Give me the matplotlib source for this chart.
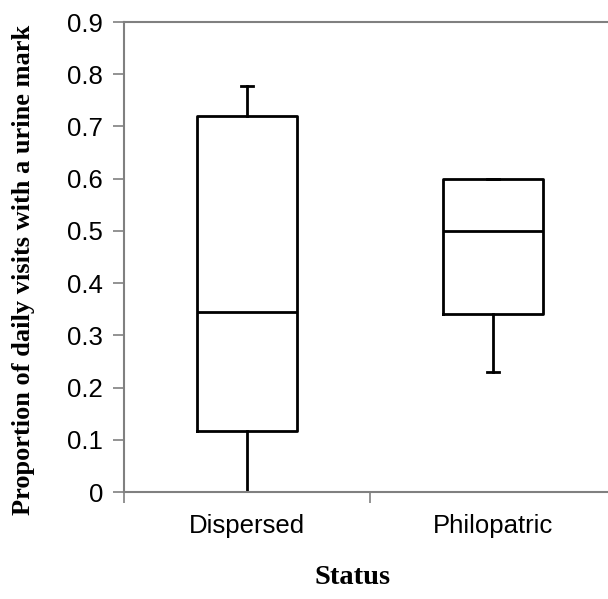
import matplotlib
matplotlib.use("Agg")
import matplotlib.pyplot as plt

categories = ["Dispersed", "Philopatric"]
whisker_low = [0.0, 0.23]
q1 = [0.117, 0.34]
median = [0.345, 0.50]
q3 = [0.72, 0.60]
whisker_high = [0.778, 0.60]
yticks = [0, 0.1, 0.2, 0.3, 0.4, 0.5, 0.6, 0.7, 0.8, 0.9]
ytick_labels = ["0", "0.1", "0.2", "0.3", "0.4", "0.5", "0.6", "0.7", "0.8", "0.9"]

W, H = 608, 599
fig = plt.figure(figsize=(W / 100, H / 100), dpi=100)
ax = fig.add_axes([124 / W, 1 - 492 / H, 492 / W, 470 / H])

stats = []
for i, c in enumerate(categories):
    stats.append(dict(label=c, whislo=whisker_low[i], q1=q1[i], med=median[i],
                      q3=q3[i], whishi=whisker_high[i], fliers=[]))

lw = 2.0
ax.bxp(stats, positions=range(len(categories)), widths=0.41, showfliers=False,
       boxprops=dict(color="black", linewidth=lw),
       medianprops=dict(color="black", linewidth=lw),
       whiskerprops=dict(color="black", linewidth=lw),
       capprops=dict(color="black", linewidth=lw),
       capwidths=0.05, manage_ticks=False)

ax.set_xlim(-0.5, 1.5)
ax.set_ylim(0, 0.9)
gray = "#808080"
for s in ["left", "bottom", "top", "right"]:
    ax.spines[s].set_color(gray)
    ax.spines[s].set_linewidth(1.5)

tick_fs = 18.5
ax.set_yticks(yticks)
ax.set_yticklabels(ytick_labels, fontfamily="Liberation Sans", fontsize=tick_fs)
ax.tick_params(axis="y", direction="out", length=8, width=1.2, color=gray, pad=7)

ax.set_xticks([0, 1])
ax.set_xticklabels(categories, fontfamily="Liberation Sans", fontsize=tick_fs)
ax.set_xticks([-0.5, 0.5, 1.5], minor=True)
ax.tick_params(axis="x", which="major", length=0, pad=16)
ax.tick_params(axis="x", which="minor", direction="out", length=8, width=1.2, color=gray)

fig.text(24 / W, 1 - 270 / H, "Proportion of daily visits with a urine mark",
         rotation=90, ha="center", va="center", fontfamily="Liberation Serif",
         fontweight="bold", fontsize=19)
fig.text(353 / W, 1 - 577 / H, "Status", ha="center", va="center",
         fontfamily="Liberation Serif", fontweight="bold", fontsize=20.5)

fig.savefig("out.png", dpi=100)
